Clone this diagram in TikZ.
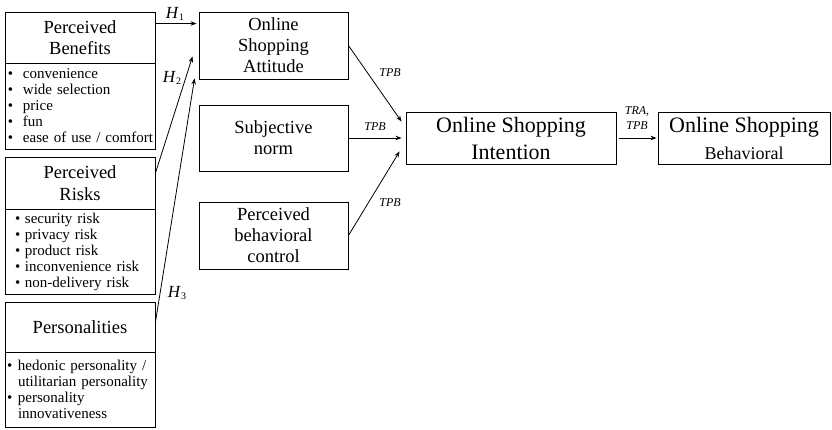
\documentclass[tikz,border=0pt]{standalone}
\usepackage{fontspec}
\setmainfont{LiberationSerif-Regular.ttf}[ItalicFont=LiberationSerif-Italic.ttf,BoldFont=LiberationSerif-Bold.ttf]
\usetikzlibrary{arrows.meta}
\newcommand{\bul}[2]{\hspace*{#1}\makebox[#2][l]{\textbullet}}
\newcommand{\hyp}[1]{\textit{H}\raisebox{-2.5pt}{\fontsize{10}{10}\selectfont\upshape #1}}
\begin{document}
\begin{tikzpicture}[x=1pt,y=-1pt,
  titlebox/.style={draw,line width=0.9pt,minimum width=150pt,inner sep=0pt,align=center,font=\fontsize{18.5}{21.5}\selectfont},
  listbox/.style={draw,line width=0.9pt,text width=146pt,inner xsep=2pt,inner ysep=0pt,align=left,font=\fontsize{15}{16}\selectfont},
  midbox/.style={draw,line width=0.9pt,minimum width=149pt,minimum height=67pt,inner sep=0pt,align=center,font=\fontsize{18.5}{21}\selectfont},
  bigbox/.style={draw,line width=0.9pt,minimum height=52pt,inner sep=0pt,align=center,font=\fontsize{22}{27}\selectfont},
  hlabel/.style={font=\fontsize{17}{17}\selectfont,inner sep=0pt},
  tlabel/.style={font=\fontsize{12}{15}\selectfont\itshape,inner sep=0pt,align=center},
  arr/.style={-{Stealth[length=6pt,width=4.5pt]},line width=0.8pt}]
\useasboundingbox (0,0) rectangle (832,429);
\node[titlebox,minimum height=51pt] (benT) at (80,37.5) {Perceived\\Benefits};
\node[listbox,minimum height=86pt] (benL) at (80,106) {\bul{1pt}{15pt}convenience\\\bul{1pt}{15pt}wide selection\\\bul{1pt}{15pt}price\\\bul{1pt}{15pt}fun\\\bul{1pt}{15pt}ease of use / comfort};
\node[titlebox,minimum height=52pt] (risT) at (80,183) {Perceived\\Risks};
\node[listbox,minimum height=85pt] (risL) at (80,251.5) {\bul{8pt}{10pt}security risk\\\bul{8pt}{10pt}privacy risk\\\bul{8pt}{10pt}product risk\\\bul{8pt}{10pt}inconvenience risk\\\bul{8pt}{10pt}non-delivery risk};
\node[titlebox,minimum height=50pt] (perT) at (80,327) {Personalities};
\node[listbox,minimum height=75pt] (perL) at (80,389.5) {\bul{0pt}{11pt}hedonic personality /\\\hspace*{11pt}utilitarian personality\\\bul{0pt}{11pt}personality\\\hspace*{11pt}innovativeness};
\node[midbox] (att) at (273.5,45.5) {Online\\Shopping\\Attitude};
\node[midbox,minimum height=66pt] (sub) at (273.5,138) {Subjective\\norm};
\node[midbox] (pbc) at (273.5,235.5) {Perceived\\behavioral\\control};
\node[bigbox,minimum width=210pt] (int) at (511,138) {Online Shopping\\Intention};
\node[bigbox,minimum width=172pt] (beh) at (744,138) {Online Shopping\\{\fontsize{18}{27}\selectfont Behavioral}};
\node[hlabel] (h1) at (175,14) {\hyp{1}};
\node[hlabel] (h2) at (172,78) {\hyp{2}};
\node[hlabel] (h3) at (177,293) {\hyp{3}};
\node[tlabel] (t1) at (390,73) {TPB};
\node[tlabel] (t2) at (375,127) {TPB};
\node[tlabel] (t3) at (390,203) {TPB};
\node[tlabel] (t4) at (637,118) {TRA,\\TPB};
\draw[arr] ([yshift=-12pt]benT.north east) -- ([xshift=-2pt,yshift=-12pt]att.north west);
\draw[arr] ([yshift=10pt]risT.east) -- ([xshift=-6pt,yshift=23pt]att.south west);
\draw[arr] ([yshift=5pt]perT.east) -- ([xshift=-4pt,yshift=1pt]att.south west);
\draw[arr] (att.east) -- ([xshift=-4pt,yshift=-10pt]int.north west);
\draw[arr] (sub.east) -- ([xshift=-4pt]int.west);
\draw[arr] (pbc.east) -- ([xshift=-6pt,yshift=13pt]int.south west);
\draw[arr] ([xshift=3pt]int.east) -- ([xshift=-1pt]beh.west);
\end{tikzpicture}
\end{document}
